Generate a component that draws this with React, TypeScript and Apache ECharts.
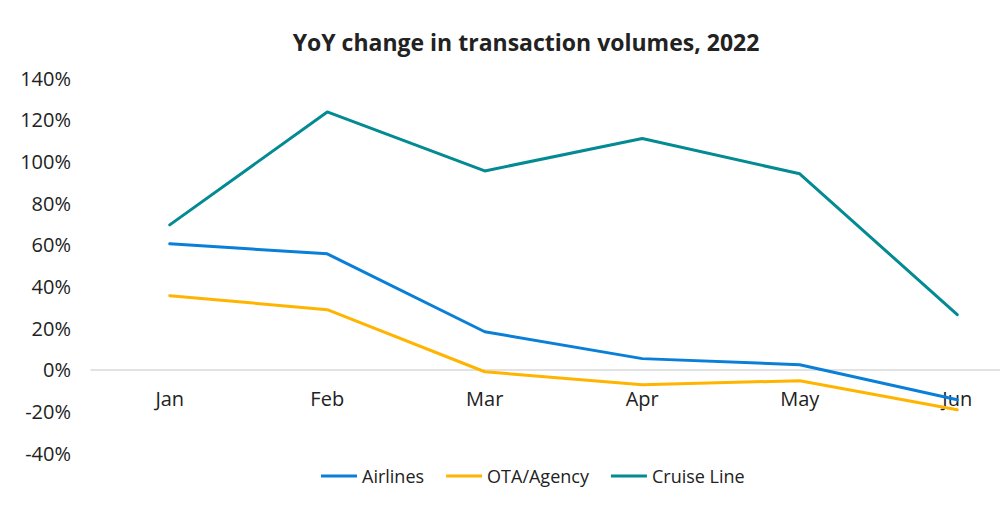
import React, { useEffect, useRef } from "react";
import * as echarts from "echarts";

const months = ["Jan", "Feb", "Mar", "Apr", "May", "Jun"];
const airlines = [60.4, 55.6, 18.2, 5.3, 2.4, -14.4];
const otaAgency = [35.5, 28.8, -1.0, -7.2, -5.3, -19.2];
const cruiseLine = [69.5, 123.7, 95.4, 111.0, 94.0, 26.4];
const yMin = -40;
const yMax = 140;

const FONT = "'Open Sans', 'Noto Sans', sans-serif";

export default function App() {
  const ref = useRef<HTMLDivElement>(null);
  useEffect(() => {
    if (!ref.current) return;
    const chart = echarts.init(ref.current, undefined, { renderer: "svg" });
    const gridTop = 78;
    const gridHeight = 375;
    const zeroOffset = -((0 - yMin) / (yMax - yMin)) * gridHeight;
    const mk = (name: string, data: number[], color: string) => ({
      name,
      type: "line",
      data,
      symbol: "none",
      lineStyle: { width: 3, color, cap: "round", join: "round" },
      itemStyle: { color },
    });
    chart.setOption({
      animation: false,
      textStyle: { fontFamily: FONT },
      title: {
        text: "YoY change in transaction volumes, 2022",
        left: 521,
        top: 25,
        textAlign: "center",
        textStyle: { fontFamily: FONT, fontSize: 23, fontWeight: "bold", color: "#222" },
      },
      legend: {
        bottom: 21,
        left: 316,
        itemWidth: 36,
        itemHeight: 3,
        itemGap: 22,
        icon: "rect",
        textStyle: { fontFamily: FONT, fontSize: 18, color: "#222" },
        data: ["Airlines", "OTA/Agency", "Cruise Line"],
      },
      grid: {
        left: 91,
        width: 945,
        top: gridTop,
        height: gridHeight,
        containLabel: false,
        outerBoundsMode: "none",
      },
      xAxis: {
        type: "category",
        data: months,
        boundaryGap: true,
        offset: zeroOffset,
        axisLine: { onZero: false, lineStyle: { color: "#d9d9d9", width: 1.5 } },
        axisTick: { show: false },
        axisLabel: { fontFamily: FONT, fontSize: 20, color: "#222", margin: 19 },
      },
      yAxis: {
        type: "value",
        min: yMin,
        max: yMax,
        interval: 20,
        splitLine: { show: false },
        axisLine: { show: false },
        axisTick: { show: false },
        axisLabel: { fontFamily: FONT, fontSize: 20, color: "#222", margin: 20, formatter: "{value}%" },
      },
      series: [
        mk("Airlines", airlines, "#0a7fd8"),
        mk("OTA/Agency", otaAgency, "#ffb400"),
        mk("Cruise Line", cruiseLine, "#038a92"),
      ],
    });
    return () => chart.dispose();
  }, []);
  return <div ref={ref} style={{ width: 1000, height: 511, position: "absolute", left: 0, top: 0, background: "#fff" }} />;
}
